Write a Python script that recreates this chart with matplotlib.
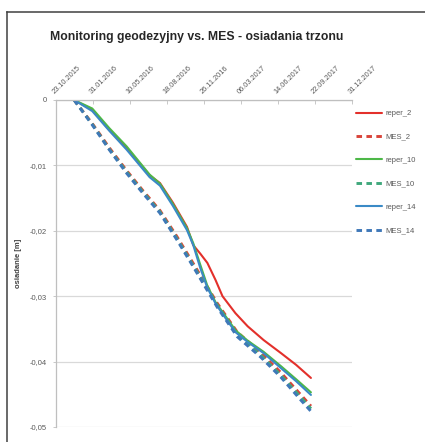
import matplotlib
matplotlib.use('Agg')
import matplotlib.pyplot as plt
from matplotlib.lines import Line2D
import datetime as dt

# ---------------- data ----------------
survey_dates = ['11.12.2015', '29.01.2016', '15.03.2016', '01.05.2016', '02.07.2016',
                '30.07.2016', '03.09.2016', '11.10.2016', '28.10.2016', '16.11.2016',
                '05.12.2016', '27.12.2016', '15.01.2017', '19.02.2017', '24.03.2017',
                '06.05.2017', '22.06.2017', '02.08.2017', '11.09.2017']
reper_2 = [0.0, -0.0015, -0.0046, -0.0073, -0.0115, -0.0127, -0.0157, -0.0194, -0.0222,
           -0.0235, -0.0249, -0.0275, -0.0300, -0.0326, -0.0346, -0.0367, -0.0387,
           -0.0405, -0.0425]
reper_10 = [0.0, -0.0013, -0.0043, -0.0071, -0.0114, -0.0128, -0.0159, -0.0196, -0.0219,
            -0.0252, -0.0284, -0.0309, -0.0324, -0.0352, -0.0368, -0.0385, -0.0407,
            -0.0427, -0.0447]
reper_14 = [0.0, -0.0017, -0.0047, -0.0076, -0.0118, -0.0131, -0.0162, -0.0199, -0.0222,
            -0.0257, -0.0287, -0.0311, -0.0327, -0.0355, -0.0370, -0.0387, -0.0410,
            -0.0430, -0.0451]

mes_dates = ['11.12.2015', '29.01.2016', '15.03.2016', '01.05.2016', '13.06.2016',
             '30.07.2016', '14.09.2016', '28.10.2016', '01.01.2017', '24.02.2017',
             '28.04.2017', '22.06.2017', '15.08.2017', '11.09.2017']
mes_2 = [0.0, -0.0036, -0.0073, -0.0108, -0.0138, -0.0169, -0.0209, -0.0250, -0.0311,
         -0.0355, -0.0386, -0.0417, -0.0451, -0.0468]
mes_10 = [0.0, -0.0037, -0.0075, -0.0110, -0.0140, -0.0171, -0.0212, -0.0253, -0.0314,
          -0.0359, -0.0390, -0.0421, -0.0455, -0.0472]
mes_14 = [0.0, -0.0038, -0.0076, -0.0112, -0.0142, -0.0173, -0.0214, -0.0255, -0.0317,
          -0.0362, -0.0393, -0.0424, -0.0459, -0.0476]

x_tick_labels = ['23.10.2015', '31.01.2016', '10.05.2016', '18.08.2016', '26.11.2016',
                 '06.03.2017', '14.06.2017', '22.09.2017', '31.12.2017']
y_ticks = [0, -0.01, -0.02, -0.03, -0.04, -0.05]
y_tick_labels = ['0', '-0,01', '-0,02', '-0,03', '-0,04', '-0,05']

title = 'Monitoring geodezyjny vs. MES - osiadania trzonu'
y_label = 'osiadanie [m]'

series = [
    ('reper_2', survey_dates, reper_2, '#e3302b', '-'),
    ('MES_2', mes_dates, mes_2, '#d9443a', '--'),
    ('reper_10', survey_dates, reper_10, '#4db848', '-'),
    ('MES_10', mes_dates, mes_10, '#3fa87c', '--'),
    ('reper_14', survey_dates, reper_14, '#3a8ac6', '-'),
    ('MES_14', mes_dates, mes_14, '#3f78b8', '--'),
]


def to_date(s):
    return dt.datetime.strptime(s, '%d.%m.%Y')


# ---------------- figure ----------------
W, H = 425, 442
fig = plt.figure(figsize=(W / 100, H / 100), dpi=100)
fig.patch.set_facecolor('white')

left_px, right_px, top_px, bottom_px = 56, 352, 100, 427
ax = fig.add_axes([left_px / W, 1 - bottom_px / H,
                   (right_px - left_px) / W, (bottom_px - top_px) / H])

for name, dts, vals, col, ls in series:
    xs = [to_date(d) for d in dts]
    if ls == '-':
        ax.plot(xs, vals, color=col, lw=1.5, label=name, solid_capstyle='round')
    else:
        ax.plot(xs, vals, color=col, lw=2.1, label=name, linestyle=(0, (1.9, 1.5)))

tick_pos = [to_date(d) for d in x_tick_labels]
ax.set_xlim(tick_pos[0], tick_pos[-1])
ax.set_ylim(-0.05, 0)

ax.xaxis.tick_top()
ax.set_xticks(tick_pos)
ax.set_xticklabels(x_tick_labels, rotation=45, ha='left', va='bottom',
                   rotation_mode='anchor', fontsize=5.3, color='#595959',
                   family=['Liberation Sans', 'DejaVu Sans'])
ax.tick_params(axis='x', direction='in', length=3, width=0.6, color='#bfbfbf', pad=3)

ax.set_yticks(y_ticks)
ax.set_yticklabels(y_tick_labels, fontsize=5.5, color='#595959',
                   family=['Liberation Sans', 'DejaVu Sans'])
ax.tick_params(axis='y', direction='out', length=2.5, width=0.6, color='#bfbfbf', pad=4)

ax.grid(axis='y', color='#d9d9d9', lw=0.9)
ax.set_axisbelow(True)
for side in ['right', 'bottom']:
    ax.spines[side].set_visible(False)
for side in ['top', 'left']:
    ax.spines[side].set_color('#bfbfbf')
    ax.spines[side].set_linewidth(0.9)

ax.set_ylabel(y_label, fontsize=5.5, fontweight='bold', color='#404040',
              family=['Liberation Sans', 'DejaVu Sans'], labelpad=6)

fig.text(197 / W, 1 - 37 / H, title, ha='center', va='center', fontsize=8.8,
         fontweight='bold', color='#262626',
         family=['Liberation Sans Narrow', 'Liberation Sans', 'DejaVu Sans'])

leg = fig.legend(loc='upper left', bbox_to_anchor=(356 / W, 1 - 110 / H),
                 frameon=False, fontsize=5.5, labelspacing=2.1, handlelength=3.4,
                 handletextpad=0.5, borderpad=0, borderaxespad=0,
                 prop={'family': ['Liberation Sans', 'DejaVu Sans'], 'size': 5.5})
for t in leg.get_texts():
    t.set_color('#595959')

# chart-area border (left and top edges visible)
fig.add_artist(Line2D([7 / W, 7 / W], [0, 1 - 12 / H], transform=fig.transFigure,
                      color='#404040', lw=1.1))
fig.add_artist(Line2D([7 / W, 1], [1 - 12 / H, 1 - 12 / H], transform=fig.transFigure,
                      color='#404040', lw=1.1))

fig.savefig('out.png', dpi=100, facecolor='white')
